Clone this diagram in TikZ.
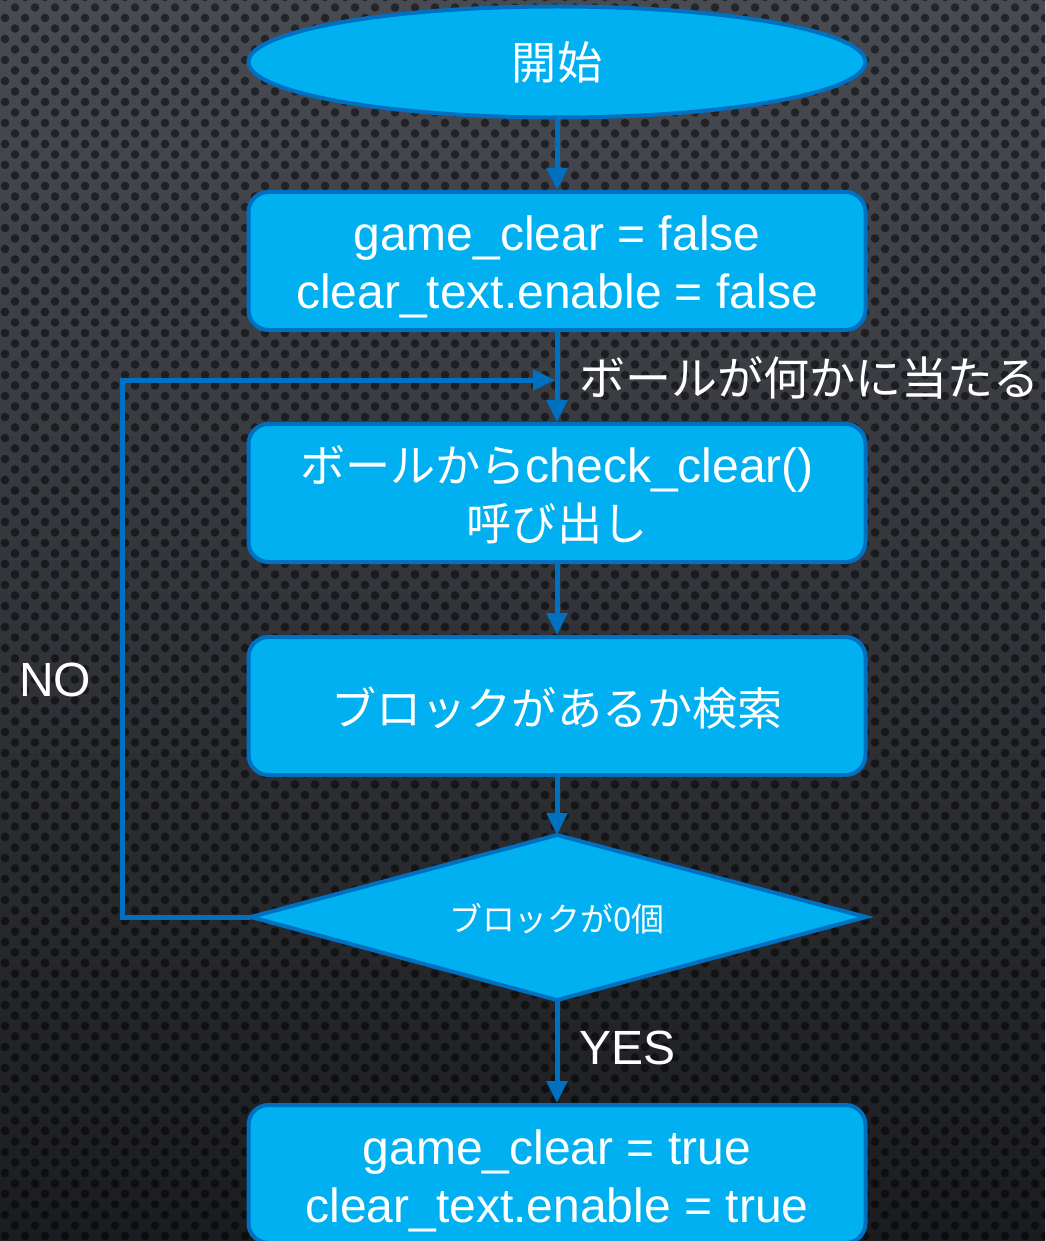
\documentclass[tikz,border=0pt]{standalone}
\usepackage{fontspec}
\setmainfont{Liberation Sans}
\newfontfamily\cjk[Scale=0.94]{Noto Sans CJK JP}
\newfontfamily\cjkb[Scale=0.96]{Noto Sans CJK JP}
\usetikzlibrary{shapes.geometric,arrows.meta,patterns}
\definecolor{boxfill}{HTML}{00B0F0}
\definecolor{boxline}{HTML}{0070C0}
\definecolor{bgtop}{RGB}{72,75,82}
\definecolor{bgbot}{RGB}{27,28,31}
\pgfdeclarepatternformonly{bgdots}{\pgfpoint{-1pt}{-1pt}}{\pgfpoint{21pt}{22pt}}{\pgfpoint{20pt}{21pt}}{%
  \pgfpathcircle{\pgfpoint{5pt}{5pt}}{4.3pt}%
  \pgfpathcircle{\pgfpoint{15pt}{15.5pt}}{4.3pt}%
  \pgfusepath{fill}}
\tikzset{
  procbox/.style={draw=boxline, fill=boxfill, line width=4pt, rounded corners=20pt,
    minimum width=617pt, minimum height=138pt, inner sep=0pt},
  boxtext/.style={align=center, inner sep=0pt, text=white,
    font=\fontsize{48}{58}\selectfont},
  startshape/.style={ellipse, draw=boxline, fill=boxfill, line width=4pt,
    minimum width=617pt, minimum height=111pt, inner sep=0pt, text=white,
    font=\fontsize{48}{57}\selectfont},
  decshape/.style={draw=boxline, fill=boxfill, line width=4pt, line join=miter},
  dectext/.style={text=white, inner sep=0pt, font=\fontsize{35}{40}\selectfont},
  arr/.style={draw=boxline, line width=5pt, -{Triangle[length=22pt,width=20pt]}},
  lbl/.style={text=white, inner sep=0pt, font=\fontsize{48}{57}\selectfont}
}
\begin{document}
\begin{tikzpicture}[x=1pt,y=-1pt]
\useasboundingbox (0,0) rectangle (1045,1241);
\begin{scope}
\clip (0,0) rectangle (1045,1241);
\shade[top color=bgtop, bottom color=bgbot] (0,0) rectangle (1045,1241);
\fill[pattern=bgdots, pattern color=black, fill opacity=0.5] (0,0) rectangle (1045,1241);

\node[startshape] (start) at (557,62) {\cjk 開始};
\node[procbox] (b1) at (557,261) {};
\node[boxtext, yshift=-6pt] (b1t) at (b1) {game\_clear = false\\clear\_text.enable = false};
\node[procbox] (b2) at (557,493) {};
\node[boxtext, yshift=-2pt] (b2t) at (b2) {{\cjk ボールから}check\_clear()\\{\cjk 呼び出し}};
\node[procbox] (b3) at (557,706) {};
\node[boxtext, yshift=-2pt] (b3t) at (b3) {\cjk ブロックがあるか検索};
\coordinate (dtop) at (557,835);
\coordinate (dleft) at (251,917);
\coordinate (dright) at (866,917);
\coordinate (dbot) at (557,1000);
\draw[decshape] (dtop) -- (dright) -- (dbot) -- (dleft) -- cycle;
\node[dectext] (dia) at (557,919) {\cjk ブロックが0個};
\node[procbox] (b4) at (557,1174) {};
\node[boxtext, yshift=-7pt] (b4t) at (b4) {game\_clear = true\\clear\_text.enable = true};

\coordinate (loopin) at (555,380);
\draw[arr] (start.south) -- (b1.north);
\draw[arr] (b1.south) -- (b2.north);
\draw[arr] (b2.south) -- (b3.north);
\draw[arr] (b3.south) -- (dtop);
\draw[arr] (dbot) -- (b4.north);
\draw[arr] (dleft) -- (122,917) |- (loopin);

\node[lbl, anchor=west] (hit) at (579,378) {\cjkb ボールが何かに当たる};
\node[lbl, anchor=west] (yes) at (579,1048) {YES};
\node[lbl, anchor=west] (no) at (19,680) {NO};
\end{scope}
\end{tikzpicture}
\end{document}
